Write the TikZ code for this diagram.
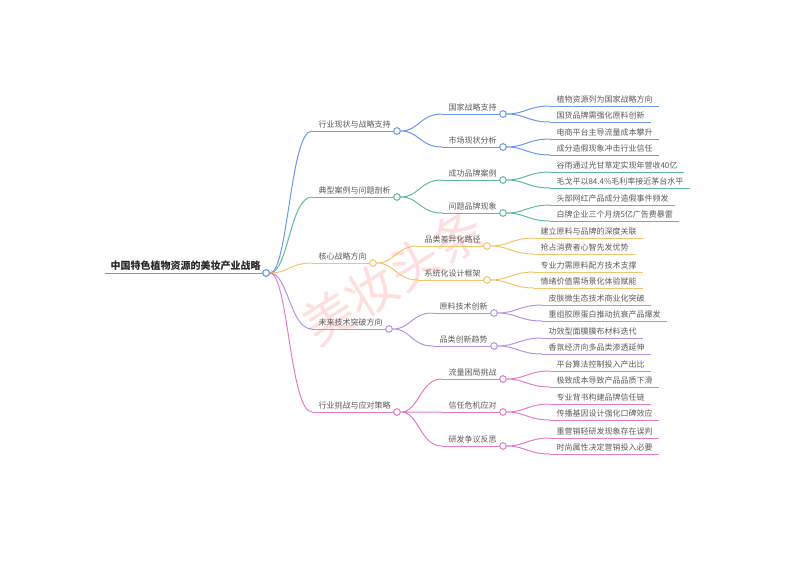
\documentclass[tikz,border=0pt]{standalone}
\usepackage{fontspec}
\newfontfamily\cjk{Noto Sans CJK SC}
\definecolor{cA}{HTML}{6A98E6}
\definecolor{cB}{HTML}{62BA9A}
\definecolor{cC}{HTML}{F3C46E}
\definecolor{cD}{HTML}{B494E4}
\definecolor{cE}{HTML}{E27CC8}
\definecolor{txt}{HTML}{5A5A5A}

\begin{document}
\begin{tikzpicture}[x=0.75pt,y=-0.75pt,line width=0.75pt,
every node/.style={font=\cjk\fontsize{6}{7}\selectfont,text=txt},
tag/.style={anchor=south west,inner xsep=4.5pt,inner ysep=1.6pt,
  append after command={(\tikzlastnode.south west) edge (\tikzlastnode.south east)}},
dot/.style={circle,draw,fill=white,minimum size=5pt,inner sep=0pt},
link/.style={to path={.. controls +(22,0) and +(-22,0) .. (\tikztotarget)}}]
\useasboundingbox (0,0) rectangle (793,561);
\node[rotate=32,text=red,opacity=0.13,font=\cjk\fontsize{38}{38}\selectfont] (mark) at (393,277) {美妆头条};
\begin{scope}[cA]
\node[tag,font=\cjk\bfseries\fontsize{7.5}{9}\selectfont,text=black!85,inner xsep=3.8pt] (root) at (105,273) {中国特色植物资源的美妆产业战略};
\end{scope}
\begin{scope}[cA]
\node[tag] (b1) at (312,131) {行业现状与战略支持};
\node[tag] (b1a) at (442,114) {国家战略支持};
\node[tag] (b1b) at (442,147) {市场现状分析};
\node[dot] (b1d) at (b1.south east) {};
\node[dot] (b1ad) at (b1a.south east) {};
\node[dot] (b1bd) at (b1b.south east) {};
\node[tag] (b1a1) at (550,106) {植物资源列为国家战略方向};
\node[tag] (b1a2) at (550,122) {国货品牌需强化原料创新};
\node[tag] (b1b1) at (550,139) {电商平台主导流量成本攀升};
\node[tag] (b1b2) at (550,155) {成分造假现象冲击行业信任};
\draw (b1d) to[link] (b1a.south west) (b1d) to[link] (b1b.south west);
\draw (b1ad) to[link] (b1a1.south west) (b1ad) to[link] (b1a2.south west);
\draw (b1bd) to[link] (b1b1.south west) (b1bd) to[link] (b1b2.south west);
\end{scope}
\begin{scope}[cB]
\node[tag] (b2) at (312,197) {典型案例与问题剖析};
\node[tag] (b2a) at (442,180) {成功品牌案例};
\node[tag] (b2b) at (442,213) {问题品牌现象};
\node[dot] (b2d) at (b2.south east) {};
\node[dot] (b2ad) at (b2a.south east) {};
\node[dot] (b2bd) at (b2b.south east) {};
\node[tag] (b2a1) at (550,172) {谷雨通过光甘草定实现年营收40亿};
\node[tag] (b2a2) at (550,188) {毛戈平以84.4\%毛利率接近茅台水平};
\node[tag] (b2b1) at (550,205) {头部网红产品成分造假事件频发};
\node[tag] (b2b2) at (550,221) {白牌企业三个月烧5亿广告费暴雷};
\draw (b2d) to[link] (b2a.south west) (b2d) to[link] (b2b.south west);
\draw (b2ad) to[link] (b2a1.south west) (b2ad) to[link] (b2a2.south west);
\draw (b2bd) to[link] (b2b1.south west) (b2bd) to[link] (b2b2.south west);
\end{scope}
\begin{scope}[cC]
\node[tag] (b3) at (312,263) {核心战略方向};
\node[tag] (b3a) at (418,246) {品类差异化路径};
\node[tag] (b3b) at (418,280) {系统化设计框架};
\node[dot] (b3d) at (b3.south east) {};
\node[dot] (b3ad) at (b3a.south east) {};
\node[dot] (b3bd) at (b3b.south east) {};
\node[tag] (b3a1) at (534,238) {建立原料与品牌的深度关联};
\node[tag] (b3a2) at (534,254) {抢占消费者心智先发优势};
\node[tag] (b3b1) at (534,272) {专业力需原料配方技术支撑};
\node[tag] (b3b2) at (534,288) {情绪价值需场景化体验赋能};
\draw (b3d) to[link] (b3a.south west) (b3d) to[link] (b3b.south west);
\draw (b3ad) to[link] (b3a1.south west) (b3ad) to[link] (b3a2.south west);
\draw (b3bd) to[link] (b3b1.south west) (b3bd) to[link] (b3b2.south west);
\end{scope}
\begin{scope}[cD]
\node[tag] (b4) at (312,329) {未来技术突破方向};
\node[tag] (b4a) at (433,313) {原料技术创新};
\node[tag] (b4b) at (433,346) {品类创新趋势};
\node[dot] (b4d) at (b4.south east) {};
\node[dot] (b4ad) at (b4a.south east) {};
\node[dot] (b4bd) at (b4b.south east) {};
\node[tag] (b4a1) at (542,305) {皮肤微生态技术商业化突破};
\node[tag] (b4a2) at (542,321) {重组胶原蛋白推动抗衰产品爆发};
\node[tag] (b4b1) at (542,338) {功效型面膜膜布材料迭代};
\node[tag] (b4b2) at (542,354) {香氛经济向多品类渗透延伸};
\draw (b4d) to[link] (b4a.south west) (b4d) to[link] (b4b.south west);
\draw (b4ad) to[link] (b4a1.south west) (b4ad) to[link] (b4a2.south west);
\draw (b4bd) to[link] (b4b1.south west) (b4bd) to[link] (b4b2.south west);
\end{scope}
\begin{scope}[cE]
\node[tag] (b5) at (312,412) {行业挑战与应对策略};
\node[tag] (b5a) at (442,379) {流量困局挑战};
\node[tag] (b5b) at (442,412) {信任危机应对};
\node[tag] (b5c) at (442,446) {研发争议反思};
\node[dot] (b5d) at (b5.south east) {};
\node[dot] (b5ad) at (b5a.south east) {};
\node[dot] (b5bd) at (b5b.south east) {};
\node[dot] (b5cd) at (b5c.south east) {};
\node[tag] (b5a1) at (550,371) {平台算法控制投入产出比};
\node[tag] (b5a2) at (550,387) {极致成本导致产品品质下滑};
\node[tag] (b5b1) at (550,404) {专业背书构建品牌信任链};
\node[tag] (b5b2) at (550,420) {传播基因设计强化口碑效应};
\node[tag] (b5c1) at (550,438) {重营销轻研发现象存在误判};
\node[tag] (b5c2) at (550,454) {时尚属性决定营销投入必要};
\draw (b5d) to[link] (b5a.south west) (b5d) to[link] (b5b.south west) (b5d) to[link] (b5c.south west);
\draw (b5ad) to[link] (b5a1.south west) (b5ad) to[link] (b5a2.south west);
\draw (b5bd) to[link] (b5b1.south west) (b5bd) to[link] (b5b2.south west);
\draw (b5cd) to[link] (b5c1.south west) (b5cd) to[link] (b5c2.south west);
\end{scope}
\node[dot,draw=cA] (rootd) at (root.south east) {};
\draw[cA] (rootd) to[link] (b1.south west);
\draw[cB] (rootd) to[link] (b2.south west);
\draw[cC] (rootd) to[link] (b3.south west);
\draw[cD] (rootd) to[link] (b4.south west);
\draw[cE] (rootd) to[link] (b5.south west);
\node[dot,draw=cA] at (rootd) {};
\end{tikzpicture}
\end{document}
